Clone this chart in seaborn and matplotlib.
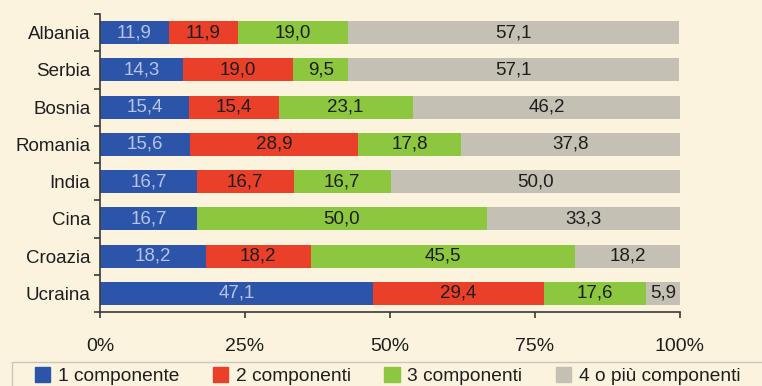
import numpy as np
import pandas as pd
import matplotlib
matplotlib.use("Agg")
import matplotlib.pyplot as plt
import seaborn as sns

# Share of households by number of members, per country of origin (%)
paesi = ["Albania", "Serbia", "Bosnia", "Romania", "India", "Cina", "Croazia", "Ucraina"]
comp_1 = [11.9, 14.3, 15.4, 15.6, 16.7, 16.7, 18.2, 47.1]
comp_2 = [11.9, 19.0, 15.4, 28.9, 16.7, 0.0, 18.2, 29.4]
comp_3 = [19.0, 9.5, 23.1, 17.8, 16.7, 50.0, 45.5, 17.6]
comp_4 = [57.1, 57.1, 46.2, 37.8, 50.0, 33.3, 18.2, 5.9]

serie = ["1 componente", "2 componenti", "3 componenti", "4 o più componenti"]
colori = ["#2C55A9", "#EA3F28", "#8DC63F", "#C5C0B4"]
col_testo = ["#B7C3E6", "#1E1E1E", "#1E1E1E", "#1E1E1E"]
xticks = [0, 25, 50, 75, 100]
xtick_labels = ["0%", "25%", "50%", "75%", "100%"]

df = pd.DataFrame({"paese": paesi, serie[0]: comp_1, serie[1]: comp_2,
                   serie[2]: comp_3, serie[3]: comp_4})
cum = df[serie].cumsum(axis=1)

sns.set_theme(style="white")
bg = "#FBF3DE"
plt.rcParams["font.family"] = ["Liberation Sans", "DejaVu Sans"]

fig = plt.figure(figsize=(7.62, 3.86), dpi=100, facecolor=bg)
ax = fig.add_axes([100 / 762, 1 - 312 / 386, 580 / 762, 298 / 386])
ax.set_facecolor(bg)

# stacked bars: draw cumulative totals from the outermost layer inward
for name, color in reversed(list(zip(serie, colori))):
    sns.barplot(x=cum[name], y=df["paese"], orient="h", color=color,
                saturation=1, width=0.62, linewidth=0, ax=ax)

# value labels centred in each segment
for i, p in enumerate(paesi):
    for j, name in enumerate(serie):
        v = df.loc[i, name]
        if v <= 0:
            continue
        centre = cum.loc[i, name] - v / 2
        ax.text(centre, i, f"{v:.1f}".replace(".", ","), ha="center", va="center",
                fontsize=13.5, color=col_testo[j])

ax.set_xlim(0, 100)
ax.set_ylim(7.5, -0.5)
ax.set_xlabel("")
ax.set_ylabel("")
ax.set_xticks(xticks)
ax.set_xticklabels(xtick_labels)
ax.set_yticks(np.arange(-0.5, 8, 1), minor=True)

for s in ["top", "right"]:
    ax.spines[s].set_visible(False)
for s in ["left", "bottom"]:
    ax.spines[s].set_color("#3A3A3A")
    ax.spines[s].set_linewidth(1.2)

ax.tick_params(axis="y", which="major", length=0, pad=7, labelsize=13.5, labelcolor="#1E1E1E")
ax.tick_params(axis="y", which="minor", left=True, length=4, width=1.2, color="#3A3A3A", direction="out")
ax.tick_params(axis="x", which="major", bottom=True, length=4, width=1.2, color="#3A3A3A",
               direction="out", pad=15, labelsize=14, labelcolor="#1E1E1E")

# legend box along the bottom edge
frame = plt.Rectangle((12 / 762, -0.05), 760 / 762, (1 - 362 / 386) + 0.05,
                      transform=fig.transFigure, facecolor=bg, edgecolor="#C9C6BC",
                      linewidth=1.0, zorder=0)
fig.patches.append(frame)

handles = [plt.Rectangle((0, 0), 1, 1, color=c) for c in colori]
leg = fig.legend(handles, serie, loc="upper left", bbox_to_anchor=(35 / 762, 1 - 367 / 386),
                 ncol=4, frameon=False, fontsize=13.8, handlelength=0.8, handleheight=0.8,
                 handletextpad=0.4, columnspacing=1.75, borderpad=0, borderaxespad=0)
for t in leg.get_texts():
    t.set_color("#1E1E1E")

fig.savefig("out.png", dpi=100, facecolor=bg)
